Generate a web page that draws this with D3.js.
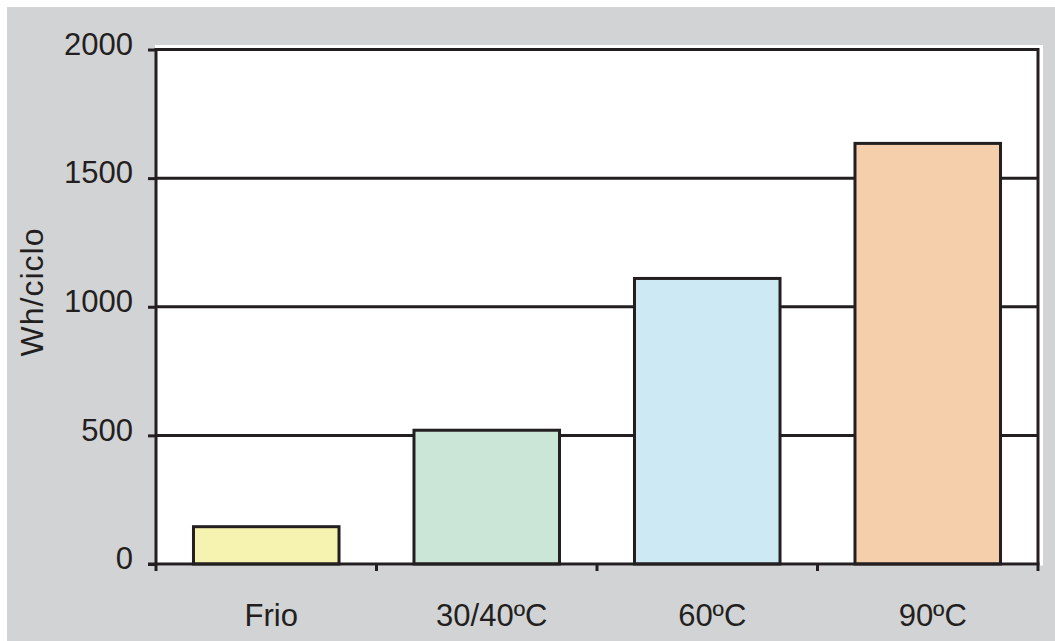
<!DOCTYPE html>
<html>
<head>
<meta charset="utf-8">
<script src="https://cdn.jsdelivr.net/npm/d3@7/dist/d3.min.js"></script>
<style>
  html, body { margin: 0; padding: 0; background: #ffffff; }
  svg { display: block; }
  text { font-family: "Liberation Sans", Arial, sans-serif; fill: #231f20; }
</style>
</head>
<body>
<svg id="chart" width="1055" height="641"></svg>
<script>
// Energy per wash cycle by temperature
const categories = ["Frio", "30/40ºC", "60ºC", "90ºC"];
const values = [145, 520, 1110, 1635];
const barColors = ["#f6f2b0", "#cbe5d6", "#cde9f4", "#f5cfab"];
const yTicks = [0, 500, 1000, 1500, 2000];
const yTitle = "Wh/ciclo";

const ink = "#231f20";
const svg = d3.select("#chart");

// page background and plot panel
svg.append("rect").attr("x", 7).attr("y", 7).attr("width", 1048).attr("height", 634).attr("fill", "#d2d3d5");

const plotLeft = 156, plotRight = 1038, plotTop = 49.5, plotBottom = 564;

svg.append("rect").attr("x", plotLeft - 1).attr("y", plotTop - 4.5)
  .attr("width", plotRight - plotLeft + 6).attr("height", plotBottom - plotTop + 6).attr("fill", "#ffffff");

const x = d3.scaleBand().domain(categories).range([plotLeft, plotRight])
  .paddingInner(0.34).paddingOuter(0.17);
const y = d3.scaleLinear().domain([0, 2000]).range([plotBottom, plotTop]);

// horizontal gridlines
svg.append("g").selectAll("line").data(yTicks.filter(d => d > 0)).join("line")
  .attr("x1", plotLeft).attr("x2", plotRight)
  .attr("y1", d => y(d)).attr("y2", d => y(d))
  .attr("stroke", ink).attr("stroke-width", 3);

// right frame edge
svg.append("line").attr("x1", plotRight).attr("x2", plotRight)
  .attr("y1", y(2000) - 1.5).attr("y2", y(0))
  .attr("stroke", ink).attr("stroke-width", 3);

// bars
svg.append("g").selectAll("rect").data(categories).join("rect")
  .attr("x", d => x(d))
  .attr("y", (d, i) => y(values[i]))
  .attr("width", x.bandwidth())
  .attr("height", (d, i) => y(0) - y(values[i]))
  .attr("fill", (d, i) => barColors[i])
  .attr("stroke", ink).attr("stroke-width", 3);

// y axis
const yAxis = svg.append("g").attr("transform", `translate(${plotLeft},0)`)
  .call(d3.axisLeft(y).tickValues(yTicks).tickSize(8).tickPadding(15).tickFormat(d3.format("d")));
yAxis.select(".domain").attr("stroke", ink).attr("stroke-width", 3)
  .attr("d", `M0,${y(2000) - 1.5}V${y(0) + 1.5}`);
yAxis.selectAll(".tick line").attr("stroke", ink).attr("stroke-width", 3);
yAxis.selectAll(".tick text")
  .attr("dy", "0.35em").attr("y", -6)
  .style("font-size", "31px").style("font-family", "'Liberation Sans', Arial, sans-serif")
  .attr("fill", ink);

// x axis: baseline plus ticks at category boundaries
const step = x.step();
const bounds = categories.map(c => x(c) - x.paddingOuter() * step).concat([plotRight]);
const xAxis = svg.append("g");
xAxis.append("line").attr("x1", plotLeft - 8).attr("x2", plotRight + 1.5)
  .attr("y1", plotBottom).attr("y2", plotBottom)
  .attr("stroke", ink).attr("stroke-width", 3);
xAxis.selectAll("line.bt").data(bounds).join("line").attr("class", "bt")
  .attr("x1", d => d).attr("x2", d => d)
  .attr("y1", plotBottom).attr("y2", plotBottom + 7)
  .attr("stroke", ink).attr("stroke-width", 3);
xAxis.selectAll("text").data(categories).join("text")
  .attr("x", d => x(d) + x.bandwidth() / 2 + 5)
  .attr("y", 626)
  .attr("text-anchor", "middle")
  .style("font-size", "31px")
  .text(d => d);

// y axis title
svg.append("text")
  .attr("transform", "translate(43,292) rotate(-90)")
  .attr("text-anchor", "middle")
  .style("font-size", "32px")
  .style("letter-spacing", "1px")
  .text(yTitle);
</script>
</body>
</html>
